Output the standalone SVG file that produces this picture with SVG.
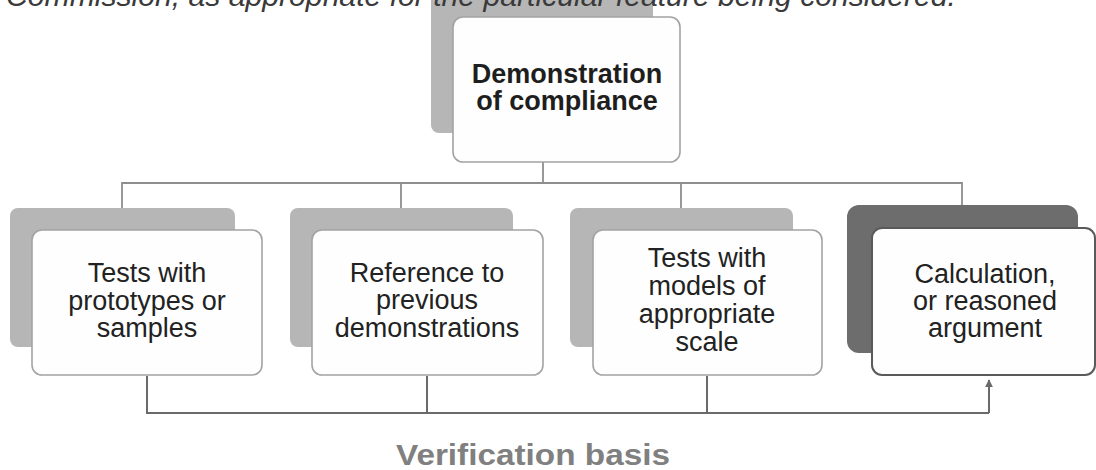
<svg xmlns="http://www.w3.org/2000/svg" width="1096" height="470" viewBox="0 0 1096 470">
  <defs>
    <style>
      .shadow { fill: #b6b6b6; }
      .shadow-dark { fill: #6d6d6d; }
      .card { fill: #fefefe; stroke: #a3a3a3; stroke-width: 1.6; }
      .card-dark { fill: #fefefe; stroke: #5a5a5a; stroke-width: 2; }
      .lbl { font-family: "Liberation Sans", Arial, sans-serif; font-size: 27px; fill: #222; text-anchor: middle; }
      .lbl-b { font-family: "Liberation Sans", Arial, sans-serif; font-size: 27px; font-weight: bold; fill: #1e1e1e; text-anchor: middle; }
      .conn-top { fill: none; stroke: #8e8e8e; stroke-width: 1.8; }
      .conn-bot { fill: none; stroke: #6a6a6a; stroke-width: 2; }
    </style>
    <marker id="arrow" viewBox="0 0 10 10" refX="9" refY="5" markerWidth="4" markerHeight="4" orient="auto">
      <path d="M0,0 L10,5 L0,10 z" fill="#6a6a6a"/>
    </marker>
  </defs>
  <rect width="1096" height="470" fill="#ffffff"/>

  <g id="connectors">
    <path class="conn-top" d="M543,162 V183 M122,208 V183 H962 V205 M401,183 V208 M681,183 V208"/>
    <path class="conn-bot" d="M147,376 V413 H989 M427,376 V413 M707,376 V413"/>
    <path class="conn-bot" d="M989,413 V380" marker-end="url(#arrow)"/>
  </g>

  <g id="node-demonstration">
    <rect class="shadow" x="431" y="-12" width="222" height="145" rx="8"/>
    <rect class="card" x="453" y="17" width="227" height="145" rx="10"/>
    <text class="lbl-b" x="567" y="83">Demonstration</text>
    <text class="lbl-b" x="567" y="110">of compliance</text>
  </g>

  <g id="node-prototypes">
    <rect class="shadow" x="10" y="208" width="225" height="139" rx="8"/>
    <rect class="card" x="32" y="230" width="230" height="145" rx="10"/>
    <text class="lbl" x="147" y="282">Tests with</text>
    <text class="lbl" x="147" y="310">prototypes or</text>
    <text class="lbl" x="147" y="337">samples</text>
  </g>

  <g id="node-reference">
    <rect class="shadow" x="290" y="208" width="223" height="139" rx="8"/>
    <rect class="card" x="312" y="230" width="231" height="145" rx="10"/>
    <text class="lbl" x="427" y="282">Reference to</text>
    <text class="lbl" x="427" y="309">previous</text>
    <text class="lbl" x="427" y="337">demonstrations</text>
  </g>

  <g id="node-models">
    <rect class="shadow" x="570" y="208" width="223" height="139" rx="8"/>
    <rect class="card" x="593" y="230" width="229" height="145" rx="10"/>
    <text class="lbl" x="707" y="267">Tests with</text>
    <text class="lbl" x="707" y="295">models of</text>
    <text class="lbl" x="707" y="323">appropriate</text>
    <text class="lbl" x="707" y="351">scale</text>
  </g>

  <g id="node-calculation">
    <rect class="shadow-dark" x="847" y="205" width="231" height="148" rx="12"/>
    <rect class="card-dark" x="872" y="228" width="223" height="147" rx="10"/>
    <text class="lbl" x="985" y="283">Calculation,</text>
    <text class="lbl" x="985" y="310">or reasoned</text>
    <text class="lbl" x="985" y="337">argument</text>
  </g>

  <text id="verification-basis" x="533" y="465" font-family="Liberation Sans, Arial, sans-serif" font-size="30" font-weight="bold" fill="#808080" text-anchor="middle" textLength="274" lengthAdjust="spacingAndGlyphs">Verification basis</text>

  <text id="caption-top" x="6" y="6" font-family="Liberation Sans, Arial, sans-serif" font-size="30" font-style="italic" fill="#3a3a3a" textLength="950" lengthAdjust="spacingAndGlyphs">Commission, as appropriate for the particular feature being considered.</text>
</svg>
